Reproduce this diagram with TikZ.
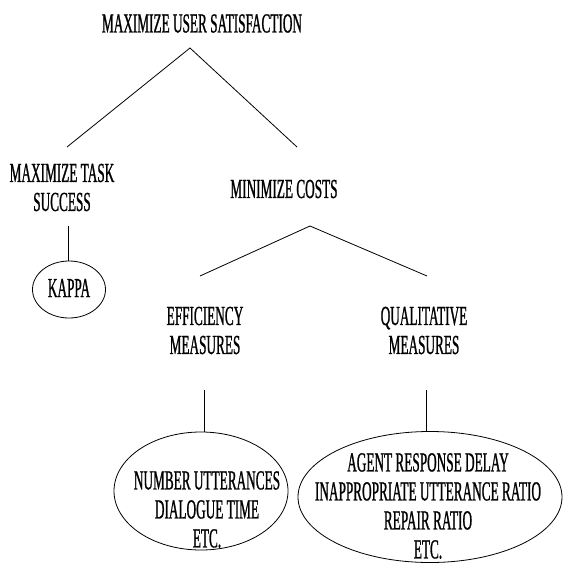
\documentclass[tikz,border=0pt]{standalone}
\usepackage{fontspec}
\setmainfont[FakeStretch=0.482,FakeBold=0.8]{Liberation Serif}
\usetikzlibrary{shapes.geometric}
\begin{document}
\begin{tikzpicture}[x=1pt,y=-1pt,
  lbl/.style={inner sep=0pt, align=center, font=\fontsize{27.5}{29}\selectfont},
  oval/.style={ellipse, draw, line width=0.8pt, inner sep=0pt},
  conn/.style={line width=0.8pt}]
\useasboundingbox (0,0) rectangle (570,565);
% text nodes
\node[lbl] (root) at (202,23.5) {MAXIMIZE USER SATISFACTION};
\node[lbl] (task) at (62,187.5) {MAXIMIZE TASK\\SUCCESS};
\node[lbl] (costs) at (284,189) {MINIMIZE COSTS};
\node[oval, minimum width=73, minimum height=57] (kappa) at (69,289.5) {};
\node[lbl] (kappatext) at (69,288) {KAPPA};
\node[lbl] (eff) at (205,330.5) {EFFICIENCY\\MEASURES};
\node[lbl] (qual) at (424,330.5) {QUALITATIVE\\MEASURES};
\node[oval, minimum width=174, minimum height=118] (effm) at (201,491) {};
\node[lbl] (effmtext) at (207,509.5) {NUMBER UTTERANCES\\DIALOGUE TIME\\ETC.};
\node[oval, minimum width=264, minimum height=131] (qualm) at (430,497) {};
\node[lbl] (qualmtext) at (428,506) {AGENT RESPONSE DELAY\\INAPPROPRIATE UTTERANCE RATIO\\REPAIR RATIO\\ETC.};
% connector points
\coordinate (j1) at (190,48);
\coordinate (j1l) at (67,147);
\coordinate (j1r) at (297,147);
\coordinate (k1) at (68,226);
\coordinate (j2) at (310,226);
\coordinate (j2l) at (200,276);
\coordinate (j2r) at (427,276);
\coordinate (e1) at (204,390);
\coordinate (q1) at (426,390);
% connectors
\draw[conn] (j1l) -- (j1) -- (j1r);
\draw[conn] (k1) -- (k1 |- kappa.north);
\draw[conn] (j2l) -- (j2) -- (j2r);
\draw[conn] (e1) -- (e1 |- effm.north);
\draw[conn] (q1) -- (q1 |- qualm.north);
\end{tikzpicture}
\end{document}
